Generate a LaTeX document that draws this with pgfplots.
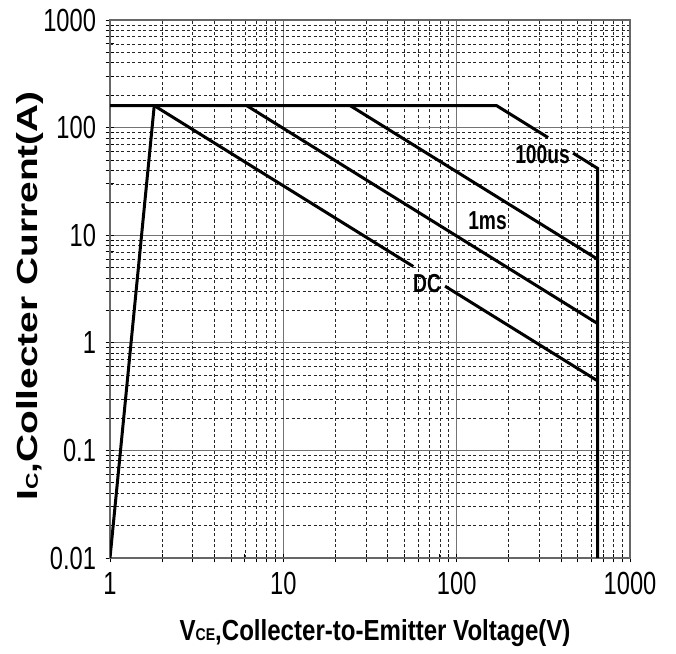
\documentclass[border=0pt]{standalone}
\usepackage{fontspec}
\setmainfont{Liberation Sans}
\newfontfamily\tickfont[FakeStretch=0.74]{Liberation Sans}
\newfontfamily\xlabfont[FakeStretch=0.83]{Liberation Sans}
\newfontfamily\ylabfont[FakeStretch=1.34]{Liberation Sans}
\newfontfamily\inlabfont[FakeStretch=0.74]{Liberation Sans}
\usepackage{pgfplots}
\pgfplotsset{compat=1.18}
\begin{document}
\begin{tikzpicture}
\path[use as bounding box] (0,0) rectangle (676pt,653pt);
\begin{axis}[
  at={(110pt,95pt)}, anchor=south west,
  scale only axis, width=520pt, height=538pt,
  xmode=log, ymode=log,
  xmin=1, xmax=1000, ymin=0.01, ymax=1000,
  xtick={1,10,100,1000}, xticklabels={1,10,100,1000},
  ytick={0.01,0.1,1,10,100,1000}, yticklabels={0.01,0.1,1,10,100,1000},
  minor xtick={2,3,4,5,6,7,8,9,20,30,40,50,60,70,80,90,200,300,400,500,600,700,800,900},
  minor ytick={0.02,0.03,0.04,0.05,0.06,0.07,0.08,0.09,0.2,0.3,0.4,0.5,0.6,0.7,0.8,0.9,2,3,4,5,6,7,8,9,20,30,40,50,60,70,80,90,200,300,400,500,600,700,800,900},
  grid=both,
  major grid style={gray!90!black, line width=1.3pt},
  minor grid style={black!85, line width=0.7pt, dash pattern=on 3pt off 2.5pt},
  axis line style={gray!80!black, line width=1.5pt},
  xtick pos=left, ytick pos=left,
  tick align=center, major tick length=9pt, minor tick length=9pt,
  tick style={black, line width=0.8pt},
  /pgf/number format/assume math mode=true,
  xticklabel style={font=\tickfont\fontsize{32}{36}\selectfont, yshift=-6pt},
  yticklabel style={font=\tickfont\fontsize{32}{36}\selectfont, xshift=-6pt},
  xlabel={\xlabfont\bfseries\fontsize{29}{32}\selectfont V{\fontsize{17}{20}\selectfont CE},Collecter-to-Emitter Voltage(V)},
  ylabel={\ylabfont\bfseries\fontsize{29}{32}\selectfont I{\fontsize{17}{20}\selectfont C},Collecter Current(A)},
  xlabel style={at={(axis description cs:0.5,0)}, anchor=base, yshift=-82pt, xshift=5pt},
  ylabel style={at={(axis description cs:0,0.5)}, anchor=base, yshift=72pt, xshift=-7pt},
  clip=true,
]
\addplot[black, line width=3pt] coordinates {(1,0.01) (1.8,160)};
\addplot[black, line width=3pt] coordinates {(1,160) (170,160) (336.8,80.8)};
\addplot[black, line width=3pt] coordinates {(469.6,57.9) (650,41.8) (650,0.01)};
\addplot[black, line width=3pt] coordinates {(1.8,160) (56.2,5.12)};
\addplot[black, line width=3pt] coordinates {(85.7,3.36) (650,0.443)};
\addplot[black, line width=3pt] coordinates {(6.15,160) (650,1.51)};
\addplot[black, line width=3pt] coordinates {(24.3,160) (650,5.98)};
\node[font=\inlabfont\bfseries\fontsize{26}{30}\selectfont] at (axis cs:313,56.2) {100us};
\node[font=\inlabfont\bfseries\fontsize{26}{30}\selectfont] at (axis cs:150.7,13.5) {1ms};
\node[font=\inlabfont\bfseries\fontsize{26}{30}\selectfont] at (axis cs:67.5,3.52) {DC};
\end{axis}
\end{tikzpicture}
\end{document}
